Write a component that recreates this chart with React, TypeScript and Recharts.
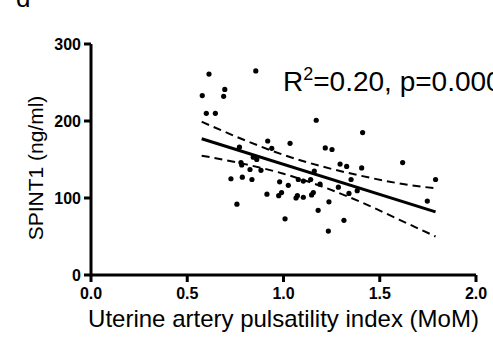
import { ScatterChart, Scatter, XAxis, YAxis } from 'recharts';

// Uterine artery PI (MoM) vs SPINT1 (ng/ml), one entry per subject
const utaPi = [
  0.613, 0.856, 0.578, 0.695, 0.689, 0.599, 0.646, 0.918, 0.939, 1.17,
  1.411, 1.034, 1.217, 1.252, 1.619, 1.294, 1.328, 1.406, 1.79, 1.351,
  1.16, 0.771, 0.843, 0.861, 0.779, 0.783, 0.826, 0.883, 0.727, 0.786,
  0.836, 0.98, 1.025, 1.077, 1.103, 1.141, 1.19, 1.285, 1.34, 1.383,
  0.914, 0.975, 0.99, 1.065, 1.072, 1.103, 1.146, 1.155, 1.236, 1.747,
  1.18, 1.008, 1.314, 1.233, 0.758,
];
const spint1 = [
  261, 265, 233, 241, 232, 210, 210, 174, 164.5, 201,
  185, 171, 165, 163, 146, 144, 141, 139, 124, 124,
  135, 166, 153, 150, 146, 143, 137, 136, 125, 127,
  124, 121, 116.5, 124, 122, 124, 118, 114, 106, 109.5,
  105, 103, 107, 100, 103, 101, 104, 107, 95, 96,
  84, 73, 71, 57, 92,
];

// fitted regression line and its 95% confidence band
const fitX = [0.575, 1.79];
const fitY = [177, 82];
const bandX = [0.575, 0.8, 1.0, 1.2, 1.4, 1.6, 1.79];
const bandUpper = [199, 175, 156, 141, 129, 119, 112.5];
const bandLower = [155, 144, 131.5, 115, 95, 72, 50];

const xTicks = [0, 0.5, 1, 1.5, 2];
const yTicks = [0, 100, 200, 300];

const points = utaPi.map((x, i) => ({ x, y: spint1[i] }));
const fit = fitX.map((x, i) => ({ x, y: fitY[i] }));
const upper = bandX.map((x, i) => ({ x, y: bandUpper[i] }));
const lower = bandX.map((x, i) => ({ x, y: bandLower[i] }));

const FONT = '"Liberation Sans", Arial, Helvetica, sans-serif';
const noDot = () => <g />;

export default function App() {
  return (
    <div style={{ position: 'absolute', left: 0, top: 0, width: 493, height: 349, background: '#fff' }}>
      <ScatterChart width={493} height={349} margin={{ top: 44, right: 17, bottom: 24, left: 21 }}>
        <XAxis
          type="number"
          dataKey="x"
          domain={[0, 2]}
          ticks={xTicks}
          tickFormatter={(v: number) => v.toFixed(1)}
          axisLine={{ stroke: '#000', strokeWidth: 3 }}
          tickLine={{ stroke: '#000', strokeWidth: 3 }}
          tickSize={7}
          tickMargin={6}
          height={50}
          tick={{ fill: '#000', fontSize: 16, fontWeight: 'bold', fontFamily: FONT }}
          label={{
            value: 'Uterine artery pulsatility index (MoM)',
            position: 'bottom',
            offset: -15,
            style: { fill: '#000', fontSize: 24, fontFamily: FONT },
          }}
        />
        <YAxis
          type="number"
          dataKey="y"
          domain={[0, 300]}
          ticks={yTicks}
          width={70}
          axisLine={{ stroke: '#000', strokeWidth: 3 }}
          tickLine={{ stroke: '#000', strokeWidth: 3 }}
          tickSize={7}
          tickMargin={3}
          tick={{ fill: '#000', fontSize: 16, fontWeight: 'bold', fontFamily: FONT }}
        />
        <Scatter data={upper} shape={noDot} line={{ stroke: '#000', strokeWidth: 2, strokeDasharray: '8 5' }} lineType="joint" lineJointType="monotoneX" isAnimationActive={false} />
        <Scatter data={lower} shape={noDot} line={{ stroke: '#000', strokeWidth: 2, strokeDasharray: '8 5' }} lineType="joint" lineJointType="monotoneX" isAnimationActive={false} />
        <Scatter data={fit} shape={noDot} line={{ stroke: '#000', strokeWidth: 3 }} lineType="joint" isAnimationActive={false} />
        <Scatter
          data={points}
          fill="#000"
          shape={(p: any) => <circle cx={p.cx} cy={p.cy} r={2.6} fill="#000" />}
          isAnimationActive={false}
        />
        <text x={16} y={7} fontSize={26} fontFamily={FONT} fill="#000">d</text>
        <text x={283} y={91} fontSize={28} fontFamily={FONT} fill="#000">
          R<tspan dy={-11} fontSize={18}>2</tspan>
          <tspan dy={11}>=0.20, p=0.000</tspan>
        </text>
        <text
          transform="rotate(-90)"
          x={-168}
          y={43}
          textAnchor="middle"
          fontSize={21}
          fontFamily={FONT}
          fill="#000"
        >
          SPINT1 (ng/ml)
        </text>
      </ScatterChart>
    </div>
  );
}
